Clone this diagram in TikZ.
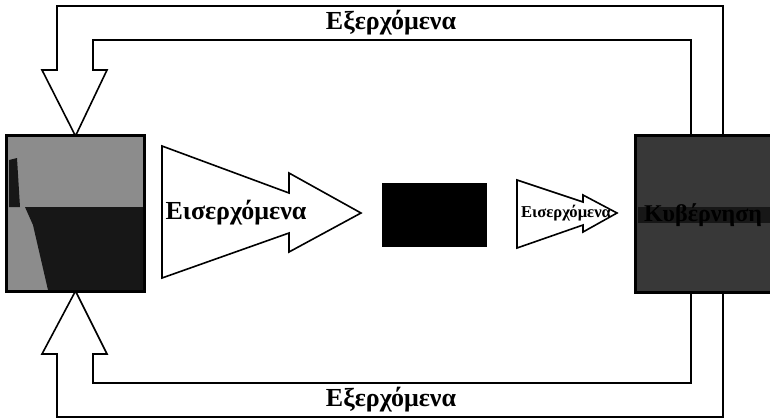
\documentclass[tikz,border=0pt]{standalone}
\usepackage{fontspec}
\setmainfont{Liberation Serif}
\usetikzlibrary{calc}

\definecolor{lightnoise}{gray}{0.55}
\definecolor{darknoise}{gray}{0.09}
\definecolor{rightnoise}{gray}{0.22}

\tikzset{
  box/.style={draw,thick,inner sep=0pt},
  bigtxt/.style={font=\fontsize{13}{15}\selectfont\bfseries},
  smalltxt/.style={font=\fontsize{8.3}{10}\selectfont\bfseries}
}

\begin{document}
\begin{tikzpicture}[x=0.5pt,y=-0.5pt]
  \useasboundingbox (0,0) rectangle (770,419);
  % feedback arrows
  \coordinate (src) at (75.5,213.5);
  \coordinate (srcN) at (75.5,136);
  \coordinate (srcS) at (75.5,291);
  \coordinate (gtop1) at (691,137);
  \coordinate (gtop2) at (723,137);
  \coordinate (gbot1) at (691,291);
  \coordinate (gbot2) at (723,291);
  \draw[thick,fill=white] (gtop2) -- (723,6) -- (57,6) -- (57,70) -- (42,70)
    -- (srcN) -- (107,70) -- (93,70) -- (93,40) -- (691,40) -- (gtop1);
  \draw[thick,fill=white] (gbot2) -- (723,417) -- (57,417) -- (57,354) -- (42,354)
    -- (srcS) -- (107,354) -- (93,354) -- (93,383) -- (691,383) -- (gbot1);
  \node[bigtxt] (outtop) at (391,23) {Εξερχόμενα};
  \node[bigtxt] (outbot) at (391,400) {Εξερχόμενα};
  % the two boxes
  \node[box,fill=lightnoise,minimum width=68.5pt,minimum height=77.5pt] (srcbox) at (src) {};
  \fill[darknoise] (25,207) -- (143,207) -- (143,290) -- (48,290) -- (33,225) -- cycle;
  \fill[darknoise] (9,160) -- (17,158) -- (20,207) -- (9,207) -- cycle;
  \draw[thick] (srcbox.south west) rectangle (srcbox.north east);
  \node[box,fill=rightnoise,minimum width=77pt,minimum height=78pt] (gov) at (713,214) {};
  \fill[darknoise] (638,207) rectangle (790,223);
  \node[font=\fontsize{12}{14}\selectfont\bfseries,text=black] (govtxt) at (703,215) {Κυβέρνηση};
  \draw[thick] (gov.south west) rectangle (gov.north east);
  % incoming arrows and the black box
  \draw[thick,fill=white] (162,146) -- (289,193) -- (289,173) -- (361,213)
    -- (289,252) -- (289,233) -- (162,278) -- cycle;
  \node[bigtxt] (inbig) at (236,213) {Εισερχόμενα};
  \fill (382,183) rectangle (487,247) coordinate (core);
  \draw[thick,fill=white] (517,180) -- (583,202) -- (583,195) -- (617,213)
    -- (583,232) -- (583,225) -- (517,248) -- cycle;
  \node[smalltxt] (insmall) at (566,213) {Εισερχόμενα};
\end{tikzpicture}
\end{document}
